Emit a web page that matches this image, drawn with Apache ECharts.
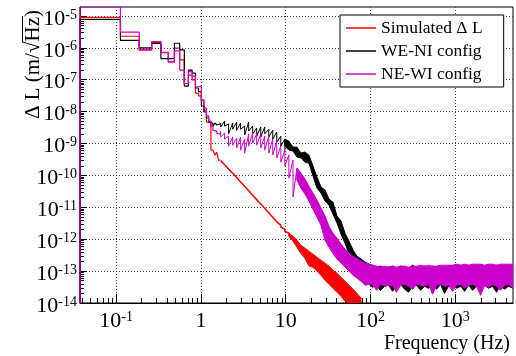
<!DOCTYPE html>
<html>
<head>
<meta charset="utf-8">
<script src="https://cdn.jsdelivr.net/npm/echarts@6.0.0/dist/echarts.min.js"></script>
<style>
html, body { margin: 0; padding: 0; background: #ffffff; }
#chart { width: 516px; height: 356px; }
</style>
</head>
<body>
<div id="chart"></div>
<script>
// ---------------- data ----------------
const seriesNames = ['Simulated \u0394 L', 'WE-NI config', 'NE-WI config'];
const seriesColors = ['#ff0000', '#000000', '#cc00cc'];
const xTitle = 'Frequency (Hz)';
const yTitle = '\u0394 L (m/\u221AHz)';

// histogram part: bins of 0.075 Hz centred on k*0.075 Hz (k = 1..22)
const binWidth = 0.075;
const redBins = [9.0e-6, 2.3e-6, 8.4e-7, 1.45e-6, 7.0e-7, 3.6e-7, 9.7e-7, 4.2e-7, 7.6e-8, 1.4e-7, 9.8e-8,
  3.8e-8, 3.1e-8, 2.3e-8, 1.1e-8, 4.7e-9, 4.4e-9, 6.2e-10, 6.2e-10, 4.3e-10, 5.4e-10, 3.0e-10];
const blackBins = [7.8e-6, 1.7e-6, 1.0e-6, 1.37e-6, 4.6e-7, 4.6e-7, 1.39e-6, 8.6e-7, 6.3e-8, 2.0e-7, 1.6e-7,
  5.5e-8, 4.2e-8, 1.5e-8, 9.7e-9, 6.3e-9, 4.7e-9, 4.1e-9, 3.5e-9, 4.4e-9, 3.8e-9, 4.1e-9];
const magentaBins = [1.9e-5, 3.1e-6, 8.9e-7, 1.55e-6, 7.2e-7, 3.6e-7, 8.0e-7, 2.0e-7, 7.6e-8, 1.8e-7, 1.3e-7,
  6.0e-8, 6.3e-8, 2.3e-8, 1.3e-8, 7.3e-9, 5.0e-9, 3.5e-9, 2.6e-9, 2.45e-9, 2.1e-9, 1.97e-9];

// noisy traces: per frequency slot, upper and lower extent of the trace
const redTraceFreq = [1.71, 1.9, 2.12, 2.37, 2.64, 2.94, 3.28, 3.66, 4.08, 4.55, 5.08, 5.66, 6.32, 7.04, 7.85, 8.76, 9.77, 10.9];
const redTraceHi = [2.9e-10, 2.2e-10, 1.58e-10, 1.18e-10, 8.6e-11, 6.2e-11, 4.6e-11, 3.3e-11, 2.4e-11, 1.74e-11,
  1.26e-11, 9.4e-12, 6.8e-12, 4.9e-12, 3.5e-12, 2.75e-12, 2.06e-12, 1.54e-12];
const redTraceLo = [2.9e-10, 2.2e-10, 1.58e-10, 1.18e-10, 8.6e-11, 6.2e-11, 4.6e-11, 3.3e-11, 2.4e-11, 1.74e-11,
  1.26e-11, 9.4e-12, 6.8e-12, 4.9e-12, 3.5e-12, 2.38e-12, 1.78e-12, 1.24e-12];
const redEnvFreq = [10.9, 12.2, 13.6, 15.1, 16.9, 18.8, 21.0, 23.4, 26.1, 29.1, 32.4, 36.1, 40.3, 45.0, 50.1, 55.9, 62.4, 69.5, 77.5];
const redEnvHi = [1.54e-12, 1.24e-12, 9.3e-13, 6.5e-13, 5.2e-13, 4.2e-13, 3.4e-13, 2.7e-13, 2.2e-13, 1.77e-13,
  1.43e-13, 1.07e-13, 8.6e-14, 6.4e-14, 4.8e-14, 3.6e-14, 2.7e-14, 2.0e-14, 1.4e-14];
const redEnvLo = [1.24e-12, 8.7e-13, 5.6e-13, 3.6e-13, 2.5e-13, 1.45e-13, 1.33e-13, 9.9e-14, 7.4e-14, 5.2e-14,
  3.86e-14, 2.9e-14, 2.17e-14, 1.62e-14, 1.13e-14, 8.5e-15, 6.8e-15, 5.9e-15, 5.1e-15];

const blackTraceFreq = [1.71, 1.9, 2.12, 2.37, 2.64, 2.94, 3.28, 3.66, 4.08, 4.55, 5.08, 5.66, 6.32, 7.04, 7.85,
  8.76, 9.77];
const blackTraceHi = [4.4e-9, 5.0e-9, 4.1e-9, 4.4e-9, 4.7e-9, 4.4e-9, 3.5e-9, 4.7e-9, 3.5e-9, 3.05e-9, 3.3e-9,
  3.3e-9, 2.8e-9, 2.6e-9, 2.3e-9, 1.7e-9, 1.38e-9];
const blackTraceLo = [3.3e-9, 3.5e-9, 2.0e-9, 2.8e-9, 2.6e-9, 2.8e-9, 1.84e-9, 2.45e-9, 2.0e-9, 1.7e-9, 1.6e-9,
  2.0e-9, 1.6e-9, 1.38e-9, 1.1e-9, 8.3e-10, 6.3e-10];
const blackEnvFreq = [9.77, 10.9, 12.2, 13.6, 15.1, 16.9, 18.8, 21.0, 23.4, 26.1, 29.1, 32.4, 36.1,
  40.3, 45.0, 50.1, 55.9, 62.4, 69.5, 77.5, 86.5, 96.4,
  106, 118, 131, 147, 164, 182, 203, 227, 253, 281, 314, 350, 390, 435, 484, 540, 602, 671, 748, 834, 929,
  1040, 1160, 1290, 1440, 1600, 1780, 1990, 2220, 2470, 2750, 3070, 3420, 3810, 4250, 4800];
const blackEnvHi = [1.38e-9, 1.19e-9, 7.7e-10, 7.7e-10, 5.0e-10, 5.4e-10, 4.3e-10, 1.96e-10, 8.9e-11, 4.3e-11,
  3.5e-11, 1.8e-11, 1.46e-11,
  5.3e-12, 3.7e-12, 1.54e-12, 8.7e-13, 4.5e-13, 2.9e-13, 2.4e-13, 1.9e-13, 1.65e-13,
  1.53e-13, 1.33e-13, 1.43e-13, 1.23e-13, 1.33e-13, 1.43e-13, 1.23e-13, 1.43e-13, 1.33e-13, 1.23e-13, 1.53e-13,
  1.23e-13, 1.33e-13, 1.43e-13, 1.23e-13, 1.43e-13, 1.33e-13, 1.43e-13, 1.23e-13, 1.33e-13, 1.43e-13, 1.33e-13,
  1.53e-13, 1.43e-13, 1.53e-13, 1.43e-13, 1.53e-13, 1.33e-13, 1.43e-13, 1.53e-13, 1.43e-13, 1.53e-13, 1.43e-13,
  1.53e-13, 1.43e-13, 1.53e-13];
const blackEnvLo = [8.3e-10, 6.2e-10, 5.8e-10, 3.75e-10, 3.5e-10, 2.6e-10, 2.4e-10, 9.5e-11, 4.0e-11, 2.8e-11,
  1.57e-11, 1.17e-11, 6.1e-12,
  3.2e-12, 1.43e-12, 7.5e-13, 3.4e-13, 2.4e-13, 1.53e-13, 1.0e-13, 6.0e-14, 3.86e-14,
  3.1e-14, 3.6e-14, 2.5e-14, 3.35e-14, 3.6e-14, 2.33e-14, 3.35e-14, 3.86e-14, 2.7e-14, 2.17e-14, 3.35e-14,
  3.6e-14, 2.5e-14, 3.35e-14, 2.9e-14, 3.6e-14, 2.7e-14, 3.86e-14, 2.0e-14, 3.35e-14, 3.6e-14, 2.9e-14,
  3.35e-14, 2.33e-14, 3.6e-14, 2.5e-14, 3.35e-14, 2.7e-14, 3.6e-14, 2.9e-14, 3.35e-14, 2.17e-14, 3.6e-14,
  2.7e-14, 3.35e-14, 2.9e-14];

const magentaTraceFreq = [1.71, 1.9, 2.12, 2.37, 2.64, 2.94, 3.28, 3.66, 4.08, 4.55, 5.08, 5.66, 6.32, 7.04,
  7.85, 8.76, 9.77, 10.9, 12.2, 13.6];
const magentaTraceHi = [2.45e-9, 2.1e-9, 1.7e-9, 1.59e-9, 1.48e-9, 1.59e-9, 1.38e-9, 1.97e-9, 2.1e-9, 1.97e-9,
  1.97e-9, 1.7e-9, 1.7e-9, 1.38e-9, 1.19e-9, 8.3e-10, 6.2e-10, 4.35e-10, 3.0e-10, 1.7e-10];
const magentaTraceLo = [1.59e-9, 1.38e-9, 8.3e-10, 8.9e-10, 7.2e-10, 6.2e-10, 5.0e-10, 8.3e-10, 1.03e-9, 8.9e-10,
  7.2e-10, 6.2e-10, 5.0e-10, 4.35e-10, 3.5e-10, 2.6e-10, 1.96e-10, 8.2e-11, 2.1e-11, 7.1e-11];
const magentaEnvFreq = [13.6, 15.1, 16.9, 18.8, 21.0, 23.4, 26.1, 29.1, 32.4, 36.1, 40.3, 45.0, 50.1, 55.9,
  62.4, 69.5, 77.5, 86.5, 96.4,
  106, 118, 131, 147, 164, 182, 203, 227, 253, 281, 314, 350, 390, 435, 484, 540, 602, 671, 748, 834, 929,
  1040, 1160, 1290, 1440, 1600, 1780, 1990, 2220, 2470, 2750, 3070, 3420, 3810, 4250, 4800];
const magentaEnvHi = [1.7e-10, 1.18e-10, 7.7e-11, 4.6e-11, 2.8e-11, 1.68e-11, 9.4e-12, 5.3e-12, 2.56e-12,
  1.54e-12, 1.08e-12, 7.0e-13, 4.9e-13, 3.6e-13, 2.9e-13, 2.5e-13, 2.05e-13, 1.77e-13, 1.65e-13,
  1.53e-13, 1.43e-13, 1.33e-13, 1.43e-13, 1.33e-13, 1.43e-13, 1.33e-13, 1.43e-13, 1.43e-13, 1.33e-13, 1.43e-13,
  1.43e-13, 1.53e-13, 1.43e-13, 1.53e-13, 1.43e-13, 1.43e-13, 1.53e-13, 1.53e-13, 1.53e-13, 1.53e-13, 1.65e-13,
  1.53e-13, 1.65e-13, 1.53e-13, 1.65e-13, 1.65e-13, 1.65e-13, 1.53e-13, 1.65e-13, 1.65e-13, 1.53e-13, 1.65e-13,
  1.65e-13, 1.65e-13, 1.65e-13];
const magentaEnvLo = [7.1e-11, 4.0e-11, 2.6e-11, 1.57e-11, 8.7e-12, 4.9e-12, 2.75e-12, 9.3e-13, 5.6e-13,
  3.6e-13, 2.4e-13, 1.77e-13, 1.33e-13, 1.0e-13, 7.4e-14, 6.0e-14, 4.8e-14, 3.6e-14, 3.86e-14,
  3.86e-14, 2.5e-14, 3.86e-14, 3.35e-14, 3.6e-14, 3.6e-14, 2.17e-14, 3.6e-14, 3.86e-14, 3.35e-14, 2.7e-14,
  3.86e-14, 3.6e-14, 3.35e-14, 3.86e-14, 1.87e-14, 3.6e-14, 3.86e-14, 3.35e-14, 3.6e-14, 2.33e-14, 3.6e-14,
  3.86e-14, 2.9e-14, 3.6e-14, 3.86e-14, 3.35e-14, 1.74e-14, 3.6e-14, 3.1e-14, 3.86e-14, 3.35e-14, 2.5e-14,
  3.6e-14, 3.86e-14, 2.9e-14];

// axes
const xMin = 0.0375, xMax = 4800;
const yMin = 1e-14, yMax = 1.9e-5;
const xTickValues = [0.1, 1, 10, 100, 1000];
const xTickBase = ['10', '1', '10', '10', '10'];
const xTickExp = ['-1', '', '', '2', '3'];
const yTickValues = [1e-14, 1e-13, 1e-12, 1e-11, 1e-10, 1e-9, 1e-8, 1e-7, 1e-6, 1e-5];
const yTickBase = ['10', '10', '10', '10', '10', '10', '10', '10', '10', '10'];
const yTickExp = ['-14', '-13', '-12', '-11', '-10', '-9', '-8', '-7', '-6', '-5'];
const minorMantissas = [2, 3, 4, 5, 6, 7, 8, 9];

// ---------------- chart construction ----------------
const FONT = 'Liberation Serif';

function minorTicks(lo, hi) {
  const out = [];
  for (let e = -15; e <= 4; e++) {
    minorMantissas.forEach(m => {
      const v = m * Math.pow(10, e);
      if (v > lo && v < hi) out.push(v);
    });
  }
  return out;
}

function tickIndex(values, v) {
  for (let i = 0; i < values.length; i++) {
    if (Math.abs(Math.log10(values[i]) - Math.log10(v)) < 1e-6) return i;
  }
  return -1;
}

function powLabel(base, exp) {
  return '{b|' + base + '}' + (exp ? '{s|' + exp + '}' : '');
}

const richLabel = {
  b: { fontFamily: FONT, fontSize: 22, lineHeight: 22, padding: [4, 0, 0, 0], verticalAlign: 'bottom', color: '#000' },
  s: { fontFamily: FONT, fontSize: 14, lineHeight: 14, verticalAlign: 'top', color: '#000' }
};

function histPoints(bins) {
  const pts = [[0.5 * binWidth, yMin]];
  bins.forEach((v, i) => pts.push([(i + 0.5) * binWidth, v]));
  pts.push([(bins.length + 0.5) * binWidth, bins[bins.length - 1]]);
  return pts;
}

function histSeries(k, bins) {
  return {
    type: 'line', name: seriesNames[k], color: seriesColors[k],
    data: histPoints(bins), step: 'end', symbol: 'none', showSymbol: false,
    lineStyle: { width: 1.2, color: seriesColors[k] }, silent: true, clip: true,
    xAxisIndex: 0, yAxisIndex: 0, animation: false
  };
}

function bandSeries(k, freq, hi, lo, filled, width) {
  const color = seriesColors[k];
  return {
    type: 'custom', name: seriesNames[k], color: color, silent: true, clip: true,
    xAxisIndex: 0, yAxisIndex: 0, animation: false,
    encode: { x: 0, y: [1, 2] },
    data: freq.map((f, i) => [f, hi[i], lo[i]]),
    renderItem: function (params, api) {
      if (params.dataIndexInside !== 0) return null;
      const n = params.dataInsideLength;
      const top = [], bot = [], zig = [];
      for (let j = 0; j < n; j++) {
        const f = api.value(0, j);
        const a = api.coord([f, api.value(1, j)]);
        const b = api.coord([f, api.value(2, j)]);
        top.push(a); bot.push(b); zig.push(a, b);
      }
      if (filled) {
        return {
          type: 'polygon', shape: { points: top.concat(bot.reverse()) },
          style: { fill: color, stroke: color, lineWidth: 1, lineJoin: 'round' }
        };
      }
      return {
        type: 'polyline', shape: { points: zig },
        style: { fill: null, stroke: color, lineWidth: width || 1, lineJoin: 'round' }
      };
    }
  };
}

// y-axis title geometry (rotated text; bar of the square root over "Hz")
const titleFont = '21px "Liberation Serif"';
const titleX = 33, titleY = 10;
const mctx = document.createElement('canvas').getContext('2d');
mctx.font = titleFont;
mctx.textBaseline = 'middle';
const wParen = mctx.measureText(')').width;
const wHzParen = mctx.measureText('Hz)').width;
const sqrtTop = mctx.measureText('\u221A').actualBoundingBoxAscent || 15;
const barX = Math.round(titleX - sqrtTop) + 0.5;

const chart = echarts.init(document.getElementById('chart'), null, { renderer: 'canvas', width: 516, height: 356 });

const option = {
  animation: false,
  backgroundColor: '#ffffff',
  grid: {
    left: 80, right: 3, top: 7, bottom: 53, show: true,
    borderColor: '#000', borderWidth: 1, backgroundColor: 'rgba(0,0,0,0)',
    containLabel: false, outerBoundsMode: 'none'
  },
  legend: {
    show: true, orient: 'vertical', left: 340, top: 15,
    padding: [3, 21, 3, 6], itemGap: 3, itemWidth: 30, itemHeight: 1.5, icon: 'rect',
    backgroundColor: '#fff', borderColor: '#000', borderWidth: 1, borderRadius: 0,
    itemStyle: { borderWidth: 0 },
    textStyle: { fontFamily: FONT, fontSize: 17.5, color: '#000', lineHeight: 20 },
    selectedMode: false,
    data: seriesNames
  },
  xAxis: [
    {
      type: 'log', logBase: 10, gridIndex: 0, position: 'bottom', min: xMin, max: xMax,
      axisLine: { show: true, onZero: false, lineStyle: { color: '#000', width: 1 } },
      axisTick: { show: true, inside: true, length: 9, customValues: xTickValues, lineStyle: { color: '#000', width: 1 } },
      minorTick: { show: false },
      axisLabel: {
        show: true, customValues: xTickValues, margin: 7, hideOverlap: false,
        formatter: function (v) { const i = tickIndex(xTickValues, v); return i < 0 ? '' : powLabel(xTickBase[i], xTickExp[i]); },
        rich: richLabel
      },
      splitLine: { show: true, lineStyle: { color: '#444', width: 1, type: [1, 2] } },
      name: xTitle, nameLocation: 'end', nameGap: -3, nameMoveOverlap: false,
      nameTextStyle: { fontFamily: FONT, fontSize: 20, color: '#000', align: 'right', verticalAlign: 'top', lineHeight: 20, padding: [31, 0, 0, 0] }
    },
    {
      type: 'log', logBase: 10, gridIndex: 0, position: 'bottom', min: xMin, max: xMax,
      axisLine: { show: false },
      axisTick: { show: true, inside: true, length: 5, customValues: minorTicks(xMin, xMax), lineStyle: { color: '#000', width: 1 } },
      axisLabel: { show: false }, splitLine: { show: false }, minorTick: { show: false }
    }
  ],
  yAxis: [
    {
      type: 'log', logBase: 10, gridIndex: 0, position: 'left', min: yMin, max: yMax,
      axisLine: { show: true, onZero: false, lineStyle: { color: '#000', width: 1 } },
      axisTick: { show: true, inside: true, length: 7, customValues: yTickValues, lineStyle: { color: '#000', width: 1 } },
      minorTick: { show: false },
      axisLabel: {
        show: true, customValues: yTickValues, margin: 3, hideOverlap: false, padding: [6, 0, 0, 0],
        formatter: function (v) { const i = tickIndex(yTickValues, v); return i < 0 ? '' : powLabel(yTickBase[i], yTickExp[i]); },
        rich: richLabel
      },
      splitLine: { show: true, lineStyle: { color: '#444', width: 1, type: [1, 2] } }
    },
    {
      type: 'log', logBase: 10, gridIndex: 0, position: 'left', min: yMin, max: yMax,
      axisLine: { show: false },
      axisTick: { show: true, inside: true, length: 4, customValues: minorTicks(yMin, yMax), lineStyle: { color: '#000', width: 1 } },
      axisLabel: { show: false }, splitLine: { show: false }, minorTick: { show: false }
    }
  ],
  graphic: [
    {
      type: 'text', x: titleX, y: titleY, rotation: Math.PI / 2, silent: true,
      style: {
        text: yTitle, fill: '#000', font: titleFont,
        align: 'right', verticalAlign: 'middle', textAlign: 'right', textVerticalAlign: 'middle'
      }
    },
    {
      type: 'line', silent: true,
      shape: { x1: barX, y1: titleY + wParen - 1, x2: barX, y2: titleY + wHzParen + 1 },
      style: { stroke: '#000', lineWidth: 1 }
    }
  ],
  series: [
    histSeries(0, redBins),
    bandSeries(0, redTraceFreq, redTraceHi, redTraceLo, false, 1.5),
    bandSeries(0, redEnvFreq, redEnvHi, redEnvLo, true),
    histSeries(1, blackBins),
    bandSeries(1, blackTraceFreq, blackTraceHi, blackTraceLo, false, 1),
    bandSeries(1, blackEnvFreq, blackEnvHi, blackEnvLo, true),
    histSeries(2, magentaBins),
    bandSeries(2, magentaTraceFreq, magentaTraceHi, magentaTraceLo, false, 1),
    bandSeries(2, magentaEnvFreq, magentaEnvHi, magentaEnvLo, true)
  ]
};
chart.setOption(option);
</script>
</body>
</html>
